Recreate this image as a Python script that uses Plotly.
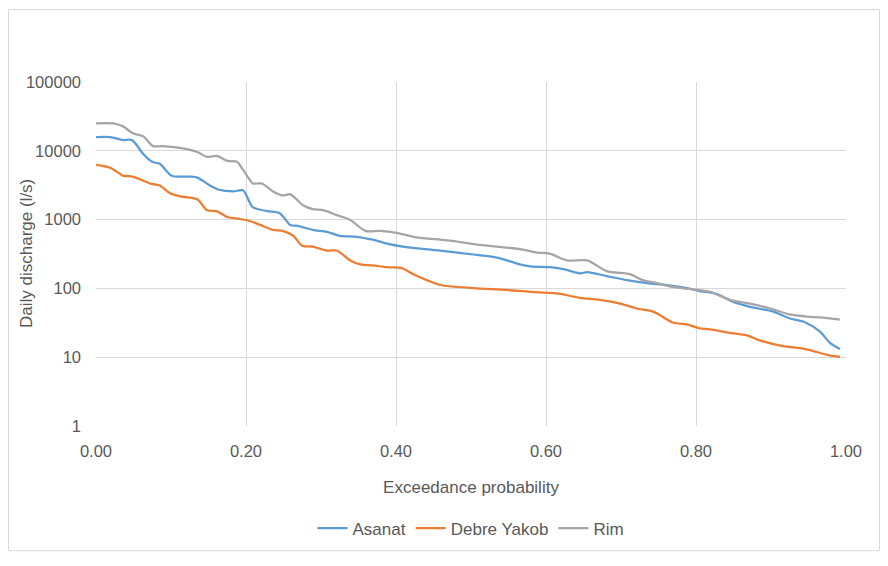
import plotly.graph_objects as go

# Exceedance probability / daily discharge (l/s)
asanat_p = [0.000, 0.019, 0.036, 0.048, 0.063, 0.075, 0.085, 0.101, 0.125, 0.135, 0.152, 0.163,
            0.183, 0.196, 0.209, 0.228, 0.245, 0.259, 0.269, 0.289, 0.308, 0.325, 0.348, 0.369,
            0.388, 0.409, 0.459, 0.503, 0.525, 0.539, 0.565, 0.579, 0.605, 0.623, 0.645, 0.655,
            0.681, 0.708, 0.735, 0.761, 0.788, 0.803, 0.828, 0.849, 0.872, 0.903, 0.925, 0.943,
            0.965, 0.979, 0.992]
asanat_q = [15800, 15800, 14300, 14300, 9000, 6910, 6470, 4350, 4220, 4080, 3130, 2740,
            2570, 2660, 1520, 1330, 1240, 837, 810, 710, 664, 582, 563, 510,
            447, 405, 355, 311, 291, 273, 224, 209, 203, 190, 166, 172,
            151, 132, 119, 112, 101, 92, 83, 64, 54, 46, 36.5, 33,
            23.7, 16, 13.1]

debre_p = [0.000, 0.019, 0.036, 0.049, 0.072, 0.085, 0.099, 0.112, 0.135, 0.148, 0.161, 0.175,
           0.192, 0.205, 0.219, 0.236, 0.249, 0.263, 0.275, 0.289, 0.308, 0.321, 0.339, 0.352,
           0.369, 0.388, 0.408, 0.423, 0.441, 0.459, 0.503, 0.548, 0.579, 0.605, 0.619, 0.645,
           0.672, 0.699, 0.721, 0.743, 0.769, 0.788, 0.805, 0.819, 0.841, 0.859, 0.868, 0.885,
           0.916, 0.939, 0.952, 0.975, 0.992]
debre_q = [6270, 5680, 4350, 4220, 3350, 3130, 2410, 2180, 1970, 1370, 1330, 1090,
           1020, 955, 837, 710, 687, 582, 418, 405, 355, 355, 255, 224,
           216, 203, 196, 161, 132, 112, 101, 95, 89, 86, 83, 73,
           68, 60, 51, 46, 32, 29.9, 26.2, 25.4, 23, 21.5, 20.8, 17.6,
           14.5, 13.5, 12.7, 10.8, 10.1]

rim_p = [0.000, 0.023, 0.036, 0.049, 0.063, 0.076, 0.089, 0.112, 0.135, 0.148, 0.161, 0.175,
         0.188, 0.195, 0.205, 0.209, 0.221, 0.236, 0.249, 0.259, 0.276, 0.289, 0.303, 0.321,
         0.339, 0.359, 0.379, 0.401, 0.423, 0.459, 0.472, 0.508, 0.535, 0.569, 0.588, 0.605,
         0.628, 0.655, 0.681, 0.712, 0.729, 0.748, 0.769, 0.792, 0.819, 0.845, 0.872, 0.899,
         0.925, 0.948, 0.969, 0.992]
rim_q = [25000, 25000, 22650, 18000, 16300, 11700, 11700, 11000, 9600, 8150, 8430, 7140,
         6910, 5500, 3800, 3350, 3350, 2570, 2250, 2330, 1620, 1420, 1370, 1160,
         990, 687, 687, 643, 563, 510, 494, 433, 405, 367, 332, 321,
         255, 255, 178, 161, 132, 119, 105, 98, 89, 68, 60, 51,
         42, 39, 37.7, 35.3]

x_ticks = [0.0, 0.2, 0.4, 0.6, 0.8, 1.0]
y_ticks = [1, 10, 100, 1000, 10000, 100000]

FONT = "Liberation Sans, Arial, sans-serif"
TXT = "#595959"
GRID = "#d9d9d9"

fig = go.Figure()
series = [("Asanat", asanat_p, asanat_q, "#5b9bd5"),
          ("Debre Yakob", debre_p, debre_q, "#ed7d31"),
          ("Rim", rim_p, rim_q, "#a5a5a5")]
for name, p, q, col in series:
    fig.add_trace(go.Scatter(x=p, y=q, name=name, mode="lines",
                             line=dict(color=col, width=2.25, shape="spline", smoothing=0.8)))

W, H = 872, 550
L, T = 88, 74
PW, PH = 750, 349
fig.update_layout(
    width=W, height=H,
    margin=dict(l=L, r=W - L - PW, t=T, b=H - T - PH),
    paper_bgcolor="white", plot_bgcolor="white",
    font=dict(family=FONT, size=16.5, color=TXT),
    showlegend=True,
    legend=dict(orientation="h", x=0.5, xanchor="center", y=-0.298, yanchor="middle",
                font=dict(family=FONT, size=17, color=TXT)),
    xaxis=dict(range=[0, 1], tickvals=x_ticks, tickformat=".2f", showgrid=True,
               gridcolor=GRID, gridwidth=1, zeroline=False, showline=False,
               ticks="", ticklabelstandoff=13,
               title=dict(text="Exceedance probability", standoff=22,
                          font=dict(family=FONT, size=17, color=TXT))),
    yaxis=dict(type="log", range=[0, 5], tickvals=y_ticks, ticktext=[str(v) for v in y_ticks],
               showgrid=True, gridcolor=GRID, gridwidth=1, zeroline=False, showline=False,
               ticks="", ticklabelstandoff=14),
    annotations=[dict(text="Daily discharge (l/s)", textangle=-90, xref="paper", yref="paper",
                      x=(18 - L) / PW, y=0.5, xanchor="center", yanchor="middle",
                      showarrow=False, font=dict(family=FONT, size=17, color=TXT))],
    shapes=[dict(type="rect", xref="paper", yref="paper",
                 x0=(0.5 - L) / PW, x1=(W - 0.5 - L) / PW,
                 y0=(T + PH - (H - 0.5)) / PH, y1=(T + PH - 0.5) / PH,
                 line=dict(color="#d9d9d9", width=1), fillcolor="rgba(0,0,0,0)", layer="below")],
)

fig.write_html("out.html")
